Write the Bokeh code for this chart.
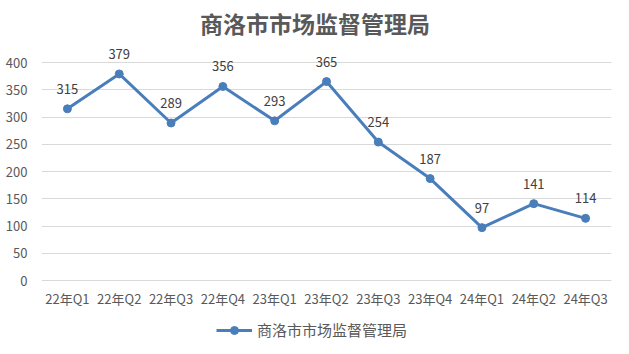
from bokeh.plotting import figure
from bokeh.models import ColumnDataSource, LabelSet, Range1d, FixedTicker, Legend, LegendItem, Label
from bokeh.core.properties import value
from bokeh.embed import file_html
from bokeh.resources import INLINE

categories = ["22年Q1", "22年Q2", "22年Q3", "22年Q4", "23年Q1", "23年Q2",
              "23年Q3", "23年Q4", "24年Q1", "24年Q2", "24年Q3"]
values = [315, 379, 289, 356, 293, 365, 254, 187, 97, 141, 114]
series_name = "商洛市市场监督管理局"
title_text = "商洛市市场监督管理局"
y_ticks = [0, 50, 100, 150, 200, 250, 300, 350, 400]

FONT = "Noto Sans CJK SC"
BLUE = "#4A7EBB"
GRAY = "#595959"

W, H = 629, 354
LEFT, RIGHT = 41, 18
# pixel rows of the value 0 and 400 gridlines in the canvas
ZERO_PX, TOP_PX = 280, 62
ppu = (ZERO_PX - TOP_PX) / 400.0
y_lo = -(H - ZERO_PX) / ppu
y_hi = 400 + TOP_PX / ppu

src = ColumnDataSource(dict(x=categories, y=values, lbl=[str(v) for v in values],
                            zero=[0] * len(categories)))

p = figure(x_range=categories, y_range=Range1d(y_lo, y_hi),
           frame_width=W - LEFT - RIGHT, frame_height=H,
           min_border_left=LEFT, min_border_right=RIGHT, min_border_top=0, min_border_bottom=0,
           output_backend="svg", toolbar_location=None)
p.outline_line_color = None
p.background_fill_color = "white"
p.border_fill_color = "white"

r = p.line("x", "y", source=src, line_color=BLUE, line_width=3)
c = p.scatter("x", "y", source=src, size=8, fill_color=BLUE, line_color=BLUE)

labels = LabelSet(x="x", y="y", text="lbl", source=src, y_offset=15,
                  text_align="center", text_baseline="bottom",
                  text_font=value(FONT), text_font_size=value("13px"), text_color="#404040")
p.add_layout(labels)

# category labels under the zero line
xlabels = LabelSet(x="x", y="zero", text="x", source=src, y_offset=-18,
                   text_align="center", text_baseline="middle",
                   text_font=value(FONT), text_font_size=value("13px"), text_color=GRAY)
p.add_layout(xlabels)
p.xaxis.visible = False

p.yaxis.ticker = FixedTicker(ticks=y_ticks)
p.ygrid.ticker = FixedTicker(ticks=y_ticks)
p.ygrid.grid_line_color = "#d9d9d9"
p.xgrid.grid_line_color = None
p.yaxis.axis_line_color = None
p.yaxis.major_tick_line_color = None
p.yaxis.minor_tick_line_color = None
p.yaxis.major_label_text_font = FONT
p.yaxis.major_label_text_font_size = "13px"
p.yaxis.major_label_text_color = GRAY
p.yaxis.major_label_standoff = 8

legend = Legend(items=[LegendItem(label=series_name, renderers=[r, c])],
                orientation="horizontal", location=(175, 14),
                label_text_font=FONT, label_text_font_size="15px", label_text_color=GRAY,
                border_line_color=None, background_fill_alpha=0, glyph_width=36,
                label_standoff=5, margin=0, padding=2)
p.add_layout(legend)

title = Label(x=(W / 2) - LEFT, y=H - 22, x_units="screen", y_units="screen", text=title_text,
              text_align="center", text_baseline="middle", text_font=FONT,
              text_font_size="23px", text_font_style="bold", text_color=GRAY)
p.add_layout(title)

open("out.html", "w").write(file_html(p, INLINE))
